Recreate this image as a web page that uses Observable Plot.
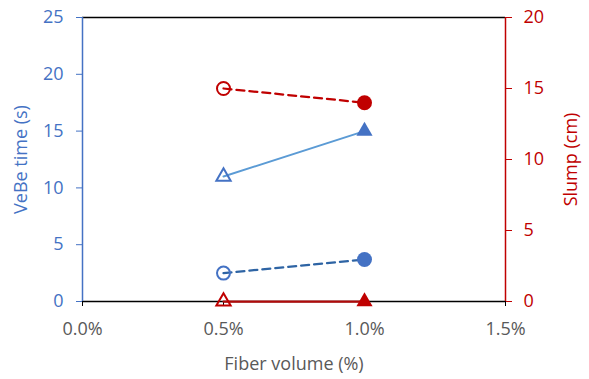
<!DOCTYPE html>
<html>
<head>
<meta charset="utf-8">
<script src="https://cdn.jsdelivr.net/npm/d3@7"></script>
<script src="https://cdn.jsdelivr.net/npm/@observablehq/plot@0.6"></script>
<style>
  html, body { margin: 0; padding: 0; background: white; }
</style>
</head>
<body>
<div id="chart"></div>
<script>
// ---- data ----
const fiber = [0.5, 1.0];            // fiber volume (%)
const vebeTriangle = [11, 15];       // VeBe time (s), triangle series
const vebeCircle = [2.5, 3.7];       // VeBe time (s), circle series
const slumpCircle = [15, 14];        // Slump (cm), circle series
const slumpTriangle = [0, 0];        // Slump (cm), triangle series
const xTicks = [0, 0.5, 1.0, 1.5];
const leftTicks = [0, 5, 10, 15, 20, 25];
const rightTicks = [0, 5, 10, 15, 20];
const leftDomain = [0, 25];
const rightDomain = [0, 20];

// ---- helpers ----
const k = leftDomain[1] / rightDomain[1]; // map slump onto VeBe scale
const rows = (vals, scale = 1) => fiber.map((f, i) => ({x: f, y: vals[i] * scale, filled: i === fiber.length - 1}));
const blue = "#4472C4", red = "#C00000";

const vT = rows(vebeTriangle);
const vC = rows(vebeCircle);
const sC = rows(slumpCircle, k);
const sT = rows(slumpTriangle, k);

function dots(data, symbol, color, rFilled, rOpen) {
  return [
    Plot.dot(data.filter(d => !d.filled), {x: "x", y: "y", symbol, r: rOpen, stroke: color, strokeWidth: 2, fill: "none"}),
    Plot.dot(data.filter(d => d.filled), {x: "x", y: "y", symbol, r: rFilled, fill: color, stroke: "none"})
  ];
}

const chart = Plot.plot({
  width: 589,
  height: 379,
  marginLeft: 82,
  marginRight: 84,
  marginTop: 17,
  marginBottom: 78,
  style: {fontFamily: "'Open Sans', sans-serif", fontSize: "18px", background: "white", overflow: "visible"},
  x: {domain: [0, 1.5]},
  y: {domain: leftDomain},
  marks: [
    Plot.ruleY([leftDomain[1]], {stroke: "black", strokeWidth: 1.5}),
    Plot.ruleY([0], {stroke: "black", strokeWidth: 1.5}),
    Plot.axisX(xTicks, {tickSize: 5, tickPadding: 16, stroke: "black", fill: "#595959", tickFormat: d => d.toFixed(1) + "%", label: null}),
    Plot.axisY(leftTicks, {anchor: "left", tickSize: 6, tickPadding: 13, stroke: blue, fill: blue, label: null}),
    Plot.ruleX([0], {stroke: blue, strokeWidth: 1.5}),
    Plot.axisY(rightTicks.map(v => v * k), {anchor: "right", tickSize: 6, tickPadding: 12, stroke: red, fill: red, tickFormat: v => String(Math.round(v / k)), label: null}),
    Plot.ruleX([1.5], {stroke: red, strokeWidth: 1.5}),
    // series lines
    Plot.line(sT, {x: "x", y: "y", stroke: "#B00A0A", strokeWidth: 2.25}),
    Plot.line(vT, {x: "x", y: "y", stroke: "#5B9BD5", strokeWidth: 2}),
    Plot.line(vC, {x: "x", y: "y", stroke: "#2E64A4", strokeWidth: 2.25, strokeDasharray: "8,5"}),
    Plot.line(sC, {x: "x", y: "y", stroke: red, strokeWidth: 2.25, strokeDasharray: "8,5"}),
    // markers
    ...dots(vT, "triangle", blue, 6, 5.3),
    ...dots(vC, "circle", blue, 7.5, 6.5),
    ...dots(sC, "circle", red, 7.5, 6.5),
    ...dots(sT, "triangle", red, 6, 5.3),
    // axis titles
    Plot.text(["Fiber volume (%)"], {frameAnchor: "bottom", dy: 63, lineAnchor: "middle", textAnchor: "middle", fill: "#595959"}),
    Plot.text(["VeBe time (s)"], {frameAnchor: "left", dx: -61, rotate: -90, lineAnchor: "middle", textAnchor: "middle", fill: blue}),
    Plot.text(["Slump (cm)"], {frameAnchor: "right", dx: 66, rotate: -90, lineAnchor: "middle", textAnchor: "middle", fill: red})
  ]
});
document.getElementById("chart").appendChild(chart);
</script>
</body>
</html>
